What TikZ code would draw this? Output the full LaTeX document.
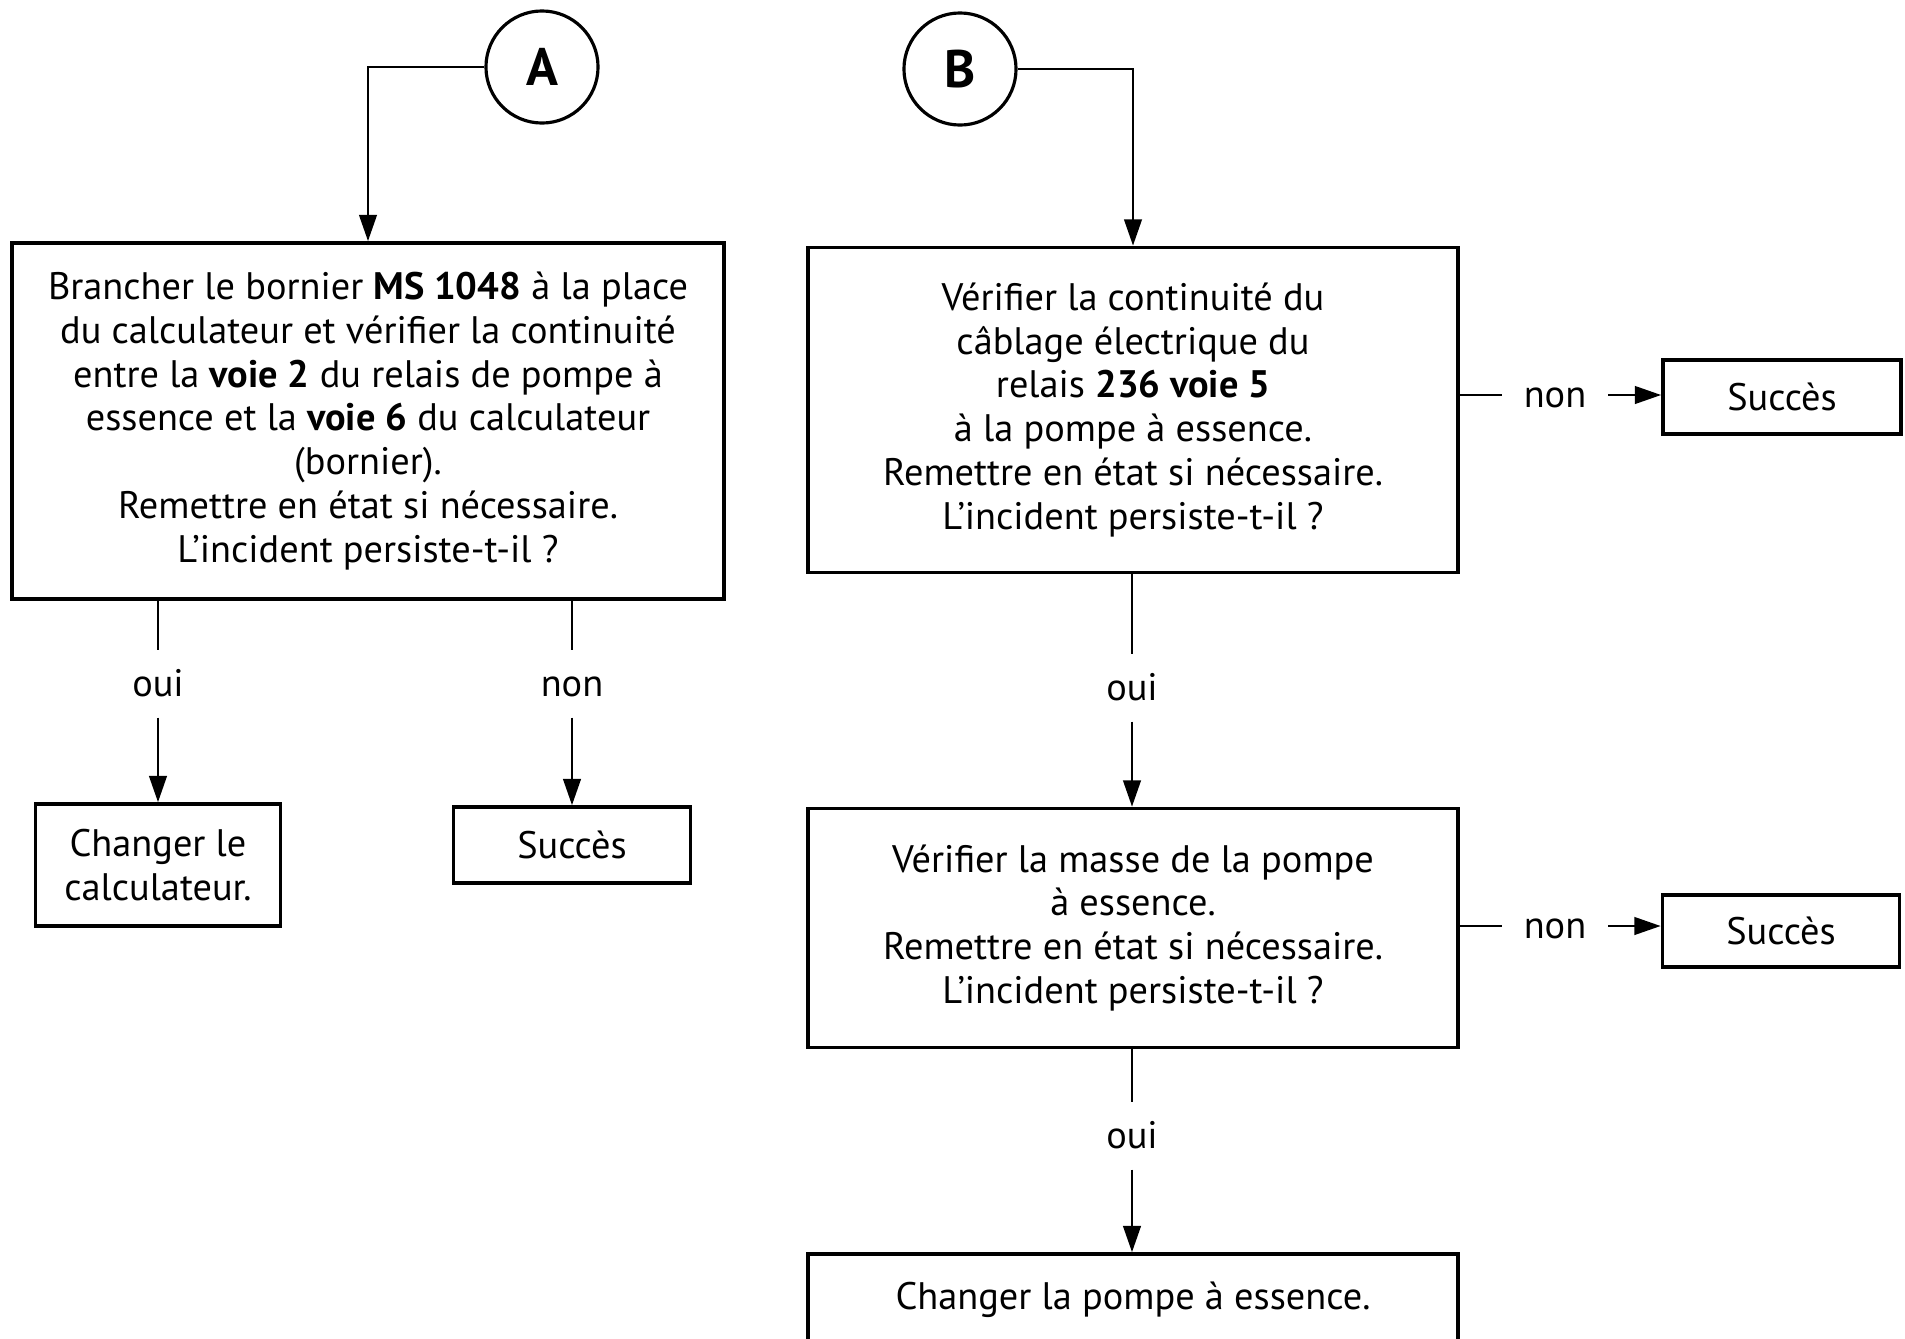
\documentclass[tikz,border=0pt]{standalone}
\usepackage{fontspec}
\setmainfont{PT Sans}
\usepackage{tikz}
\usetikzlibrary{arrows.meta, calc}

\begin{document}
\begin{tikzpicture}[x=0.01cm, y=-0.01cm,
	font=\fontsize{10.9}{12.5}\selectfont,
	etape/.style={draw, line width=1pt, align=center, inner sep=0pt},
	repere/.style={draw, circle, line width=0.9pt, minimum size=1.12cm, inner sep=0pt,
		font=\fontsize{15}{17}\selectfont\bfseries},
	reponse/.style={inner sep=0pt, minimum width=1.05cm, minimum height=0.66cm,
		text height=1.6ex, text depth=0.2ex},
	lien/.style={line width=0.75pt},
	fleche/.style={lien, -{Triangle[length=7.5pt, width=5pt]}}]
	\useasboundingbox (0,0) rectangle (1905,1339);
	\fill[white] (0,0) rectangle (1905,1339);
	\clip (0,0) rectangle (1905,1339);

	% points d'entree
	\node[repere] (A) at (542,67) {A};
	\node[repere] (B) at (960,69) {B};

	% branche A
	\node[etape, minimum width=7.12cm, minimum height=3.56cm] (verifA) at (368,421)
		{Brancher le bornier \textbf{MS 1048} à la place\\
		du calculateur et vérifier la continuité\\
		entre la \textbf{voie 2} du relais de pompe à\\
		essence et la \textbf{voie 6} du calculateur\\
		(bornier).\\
		Remettre en état si nécessaire.\\
		L’incident persiste-t-il ?};
	\node[reponse] (ouiA) at (158,684) {oui};
	\node[reponse] (nonA) at (572,684) {non};
	\node[etape, minimum width=2.45cm, minimum height=1.22cm] (calcul) at (158,865)
		{Changer le\\ calculateur.};
	\node[etape, minimum width=2.37cm, minimum height=0.76cm] (succesA) at (572,845) {Succès};

	% branche B
	\node[etape, minimum width=6.5cm, minimum height=3.25cm] (verifB) at (1133,410)
		{Vérifier la continuité du\\
		câblage électrique du\\
		relais \textbf{236 voie 5}\\
		à la pompe à essence.\\
		Remettre en état si nécessaire.\\
		L’incident persiste-t-il ?};
	\node[reponse] (nonB1) at (1555,395) {non};
	\node[etape, minimum width=2.38cm, minimum height=0.74cm] (succesB1) at (1782,397) {Succès};
	\node[reponse] (ouiB1) at (1132,688) {oui};

	\node[etape, minimum width=6.5cm, minimum height=2.39cm] (masse) at (1133,928)
		{Vérifier la masse de la pompe\\
		à essence.\\
		Remettre en état si nécessaire.\\
		L’incident persiste-t-il ?};
	\node[reponse] (nonB2) at (1555,926) {non};
	\node[etape, minimum width=2.37cm, minimum height=0.72cm] (succesB2) at (1781,931) {Succès};
	\node[reponse] (ouiB2) at (1132,1136) {oui};

	\node[etape, minimum width=6.5cm, minimum height=0.92cm] (pompe) at (1133,1300)
		{Changer la pompe à essence.};

	% liaisons
	\draw[fleche] (A.west) -| (verifA.north);
	\draw[fleche] (B.east) -| (verifB.north);

	\draw[lien] (verifA.south -| ouiA) -- (ouiA.north);
	\draw[fleche] (ouiA.south) -- (calcul.north);
	\draw[lien] (verifA.south -| nonA) -- (nonA.north);
	\draw[fleche] (nonA.south) -- (succesA.north);

	\draw[lien] (nonB1 -| verifB.east) -- (nonB1.west);
	\draw[fleche] (nonB1.east) -- (nonB1 -| succesB1.west);
	\draw[lien] (verifB.south -| ouiB1) -- (ouiB1.north);
	\draw[fleche] (ouiB1.south) -- (ouiB1 |- masse.north);

	\draw[lien] (nonB2 -| masse.east) -- (nonB2.west);
	\draw[fleche] (nonB2.east) -- (nonB2 -| succesB2.west);
	\draw[lien] (masse.south -| ouiB2) -- (ouiB2.north);
	\draw[fleche] (ouiB2.south) -- (ouiB2 |- pompe.north);
\end{tikzpicture}
\end{document}
